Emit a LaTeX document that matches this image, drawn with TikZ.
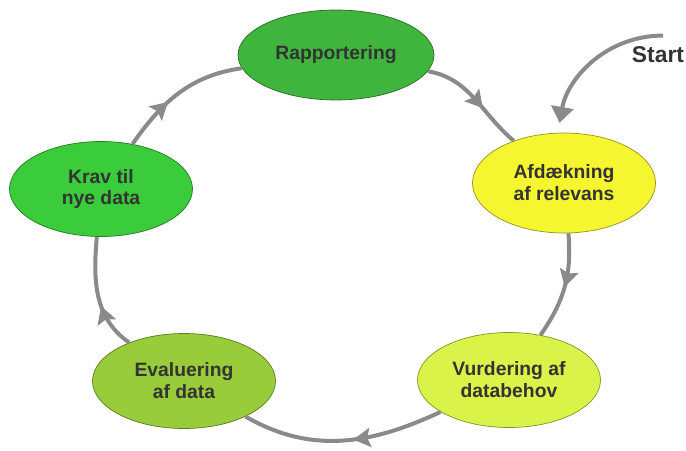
\documentclass[tikz,border=0pt]{standalone}
\usepackage{fontspec}
\setmainfont{Liberation Sans}
\usetikzlibrary{shapes.geometric,arrows.meta,decorations.markings}
\definecolor{ringgray}{RGB}{138,138,138}
\definecolor{txtgray}{RGB}{51,51,51}
\definecolor{rapgreen}{RGB}{64,181,61}
\definecolor{kravgreen}{RGB}{58,204,58}
\definecolor{afdyellow}{RGB}{246,246,48}
\definecolor{vurlime}{RGB}{218,243,72}
\definecolor{evaolive}{RGB}{152,204,58}

\begin{document}
\begin{tikzpicture}[fase/.style={ellipse, draw=#1!60!black, fill=#1, minimum width=3.66cm, minimum height=1.9cm, inner sep=0pt, align=center, font=\fontsize{11}{12.5}\selectfont\bfseries, text=txtgray},
ring/.style={draw=ringgray, line width=0.08cm, postaction={decorate}, decoration={markings, mark=at position #1 with {\arrow{Stealth[length=0.34cm, width=0.38cm, inset=0.06cm]}}}},
ring/.default=0.5]

\useasboundingbox (0,0) rectangle (13.72,9);

\node[fase=rapgreen, minimum width=3.92cm, minimum height=1.8cm] (rap) at (6.72,7.9) {Rapportering};

\node[fase=afdyellow, minimum height=2cm] (afd) at (11.28,5.34) {Afd\ae kning\\af relevans};

\node[fase=vurlime] (vur) at (10.18,1.4) {Vurdering af\\databehov};

\node[fase=evaolive] (eva) at (3.68,1.38) {Evaluering\\af data};

\node[fase=kravgreen] (krav) at (2.02,5.22) {Krav til\\nye data};

\node[font=\fontsize{13}{15}\selectfont\bfseries, text=txtgray, inner sep=0pt] (start) at (13.16,7.9) {Start};

\draw[ring=0.6] (rap) to[out=-10, in=140] (afd);

\draw[ring=0.5] (afd) to[out=-85, in=55] (vur);

\draw[ring=0.45] (vur) to[out=205, in=-30] (eva);

\draw[ring=0.4] (eva) to[out=145, in=-95] (krav);

\draw[ring=0.4] (krav) to[out=55, in=188] (rap);

\draw[-{Triangle[length=0.32cm, width=0.44cm]}, ringgray, line width=0.08cm, shorten >=0.2cm] ([xshift=0.1cm, yshift=0.22cm]start.north) to[out=180, in=80] (afd.97);

\end{tikzpicture}
\end{document}
